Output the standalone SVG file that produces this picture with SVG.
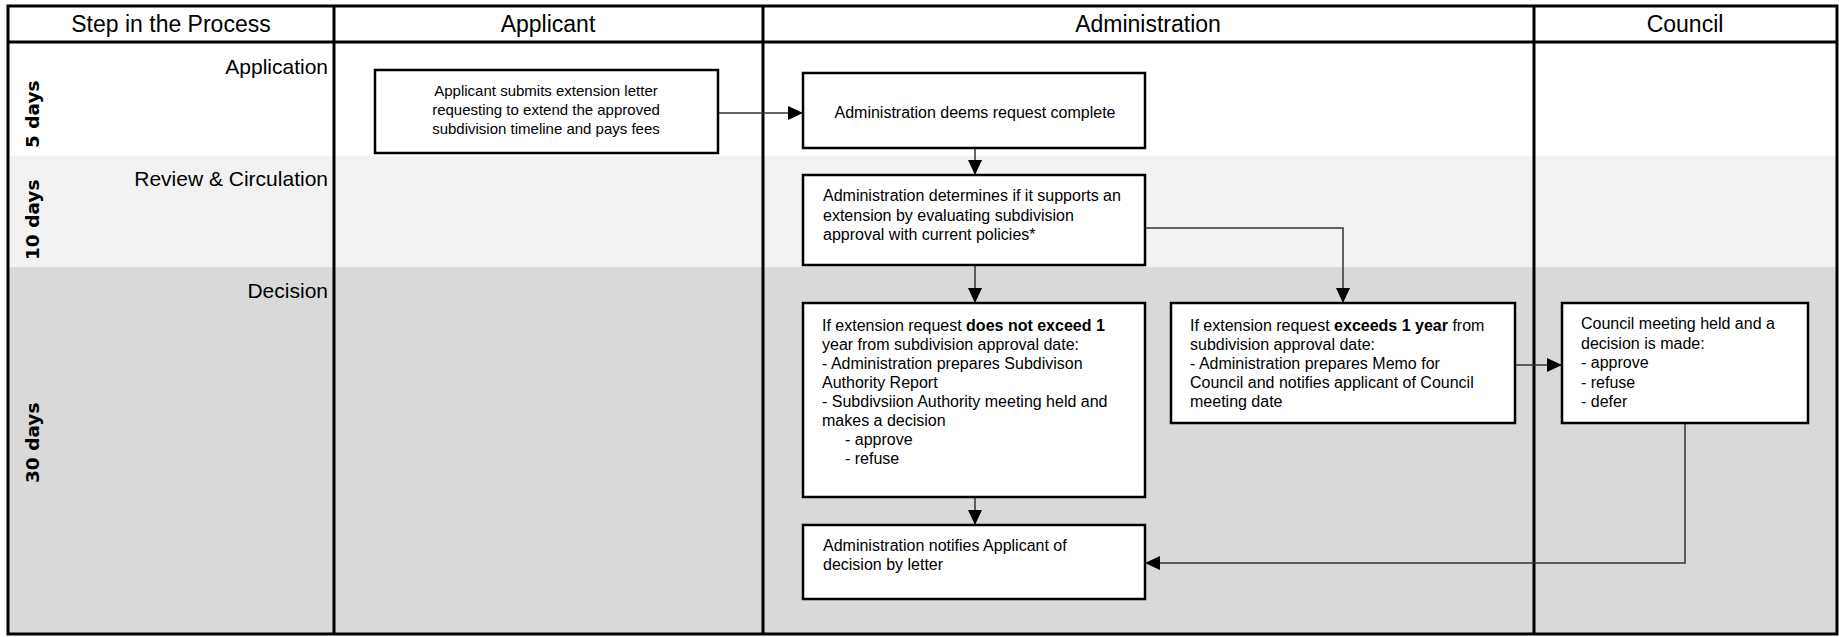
<svg xmlns="http://www.w3.org/2000/svg" width="1839" height="637" viewBox="0 0 1839 637">
<defs>
<style>
.lane{fill:none;stroke:#000;stroke-width:3}
.box{fill:#fff;stroke:#000;stroke-width:2.5}
.t{font-family:"Liberation Sans",Arial,sans-serif;font-size:16px;fill:#000}
.hdr{font-size:23px}
.row{font-size:21px;text-anchor:end}
.sm{font-size:15px}
.days{font-family:"DejaVu Sans",Verdana,sans-serif;font-size:18.5px;font-weight:bold;fill:#000}
.c{text-anchor:middle}
.conn{fill:none;stroke:#333;stroke-width:1.5;marker-end:url(#arr)}
</style>
<marker id="arr" markerUnits="userSpaceOnUse" markerWidth="16" markerHeight="14" refX="15" refY="7" orient="auto">
<path d="M0,0 L15,7 L0,14 Z" fill="#000"/>
</marker>
</defs>
<rect x="0" y="0" width="1839" height="637" fill="#fff"/>
<g id="swimlanes">
<rect x="8" y="42" width="1829" height="114" fill="#fff"/>
<rect x="8" y="156" width="1829" height="111" fill="#f2f2f2"/>
<rect x="8" y="267" width="1829" height="367" fill="#d9d9d9"/>
<rect class="lane" x="8" y="6" width="1829" height="628"/>
<line class="lane" x1="8" y1="42" x2="1837" y2="42"/>
<line class="lane" x1="334" y1="6" x2="334" y2="634"/>
<line class="lane" x1="763" y1="6" x2="763" y2="634"/>
<line class="lane" x1="1534" y1="6" x2="1534" y2="634"/>
<text class="t hdr c" x="171" y="32">Step in the Process</text>
<text class="t hdr c" x="548" y="32">Applicant</text>
<text class="t hdr c" x="1148" y="32">Administration</text>
<text class="t hdr c" x="1685" y="32">Council</text>
<text class="t row" x="328" y="74">Application</text>
<text class="t row" x="328" y="186">Review &amp; Circulation</text>
<text class="t row" x="328" y="298">Decision</text>
<text class="days" transform="translate(39,148) rotate(-90)">5 days</text>
<text class="days" transform="translate(39,260) rotate(-90)">10 days</text>
<text class="days" transform="translate(39,483) rotate(-90)">30 days</text>
</g>
<g id="connectors">
<path class="conn" d="M718,113 H803"/>
<path class="conn" d="M975,148 V175"/>
<path class="conn" d="M975,265 V303"/>
<path class="conn" d="M1145,228 H1343 V303"/>
<path class="conn" d="M1515,365 H1562"/>
<path class="conn" d="M975,497 V525"/>
<path class="conn" d="M1685,423 V563 H1145"/>
</g>
<g id="n-applicant-submits">
<rect class="box" x="375" y="70" width="343" height="83"/>
<text class="t sm c" x="546" y="96">Applicant submits extension letter</text>
<text class="t sm c" x="546" y="115">requesting to extend the approved</text>
<text class="t sm c" x="546" y="134">subdivision timeline and pays fees</text>
</g>
<g id="n-deems-complete">
<rect class="box" x="803" y="73" width="342" height="75"/>
<text class="t c" x="975" y="118">Administration deems request complete</text>
</g>
<g id="n-determines">
<rect class="box" x="803" y="175" width="342" height="90"/>
<text class="t" x="823" y="201">Administration determines if it supports an</text>
<text class="t" x="823" y="220.5">extension by evaluating subdivision</text>
<text class="t" x="823" y="240">approval with current policies*</text>
</g>
<g id="n-not-exceed">
<rect class="box" x="803" y="303" width="342" height="194"/>
<text class="t" x="822" y="331">If extension request <tspan font-weight="bold">does not exceed 1</tspan></text>
<text class="t" x="822" y="350">year from subdivision approval date:</text>
<text class="t" x="822" y="369">- Administration prepares Subdivison</text>
<text class="t" x="822" y="388">Authority Report</text>
<text class="t" x="822" y="407">- Subdivsiion Authority meeting held and</text>
<text class="t" x="822" y="426">makes a decision</text>
<text class="t" x="845" y="445">- approve</text>
<text class="t" x="845" y="464">- refuse</text>
</g>
<g id="n-exceeds">
<rect class="box" x="1171" y="303" width="344" height="120"/>
<text class="t" x="1190" y="331">If extension request <tspan font-weight="bold">exceeds 1 year</tspan> from</text>
<text class="t" x="1190" y="350">subdivision approval date:</text>
<text class="t" x="1190" y="369">- Administration prepares Memo for</text>
<text class="t" x="1190" y="388">Council and notifies applicant of Council</text>
<text class="t" x="1190" y="407">meeting date</text>
</g>
<g id="n-council-meeting">
<rect class="box" x="1562" y="303" width="246" height="120"/>
<text class="t" x="1581" y="329">Council meeting held and a</text>
<text class="t" x="1581" y="348.5">decision is made:</text>
<text class="t" x="1581" y="368">- approve</text>
<text class="t" x="1581" y="387.5">- refuse</text>
<text class="t" x="1581" y="407">- defer</text>
</g>
<g id="n-notifies">
<rect class="box" x="803" y="525" width="342" height="74"/>
<text class="t" x="823" y="551">Administration notifies Applicant of</text>
<text class="t" x="823" y="570">decision by letter</text>
</g>
</svg>
